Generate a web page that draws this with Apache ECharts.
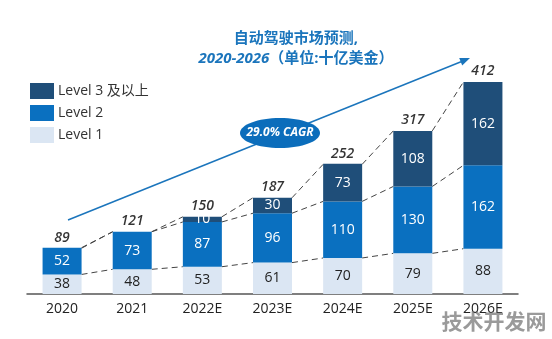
<!DOCTYPE html>
<html>
<head>
<meta charset="utf-8">
<script src="https://cdn.jsdelivr.net/npm/echarts@6/dist/echarts.min.js"></script>
<style>html,body{margin:0;padding:0;background:#fff;}#c{width:552px;height:339px;}</style>
</head>
<body>
<div id="c"></div>
<script>
var categories = ['2020', '2021', '2022E', '2023E', '2024E', '2025E', '2026E'];
var level1 = [38, 48, 53, 61, 70, 79, 88];
var level2 = [52, 73, 87, 96, 110, 130, 162];
var level3 = [null, null, 10, 30, 73, 108, 162];
var totals = [89, 121, 150, 187, 252, 317, 412];
var seriesNames = ['Level 1', 'Level 2', 'Level 3 及以上'];

var FONT = '"Open Sans", "Noto Sans CJK SC", sans-serif';
var BAR_W = 39;
var C1 = '#dbe6f3', C2 = '#0a70c0', C3 = '#1f4e79';

var cum2 = level1.map(function (v, i) { return v + level2[i]; });
var connectors = [];
for (var i = 0; i < categories.length - 1; i++) {
  connectors.push([i, level1[i], level1[i + 1], cum2[i], cum2[i + 1], totals[i], totals[i + 1]]);
}

var chart = echarts.init(document.getElementById('c'), null, {renderer: 'canvas'});
var inLabel = function (color) {
  return {show: true, position: 'inside', color: color, fontSize: 14, fontFamily: FONT,
    formatter: function (p) { return p.value == null ? '' : p.value; }};
};
chart.setOption({
  animation: false,
  backgroundColor: '#fff',
  title: {
    text: '{a|自动驾驶市场预测,}\n{b|2020-2026}{c|（单位:十亿美金）}',
    left: 291, top: 24, textAlign: 'center',
    textStyle: {
      rich: {
        a: {fontSize: 15, fontWeight: 'bold', color: '#1b75bc', fontFamily: FONT, lineHeight: 20},
        b: {fontSize: 15, fontWeight: 'bold', fontStyle: 'italic', color: '#1b75bc', fontFamily: FONT, lineHeight: 20},
        c: {fontSize: 15, fontWeight: 'bold', color: '#1b75bc', fontFamily: FONT, lineHeight: 20}
      }
    }
  },
  legend: {
    data: [seriesNames[2], seriesNames[1], seriesNames[0]],
    orient: 'vertical', left: 25, top: 78,
    itemWidth: 24, itemHeight: 16, itemGap: 6, icon: 'rect',
    textStyle: {fontSize: 14, color: '#333', fontFamily: FONT, padding: [0, 0, 0, -1]}
  },
  grid: {left: 27, right: 34, top: 82, bottom: 45},
  xAxis: {
    type: 'category', data: categories,
    axisLine: {lineStyle: {color: '#555', width: 1.5}},
    axisTick: {show: false},
    axisLabel: {fontSize: 14, color: '#222', fontFamily: FONT, margin: 8}
  },
  yAxis: {type: 'value', min: 0, max: 412, show: false, splitLine: {show: false}},
  graphic: [
    {type: 'line', z: 1, shape: {x1: 68, y1: 220, x2: 461, y2: 61.7}, style: {stroke: '#1b75bc', lineWidth: 1.5}},
    {type: 'polygon', z: 1, shape: {points: [[470, 58], [462.2, 65.4], [459.2, 58]]}, style: {fill: '#1b75bc'}},
    {type: 'ellipse', z: 2, shape: {cx: 280, cy: 133, rx: 40, ry: 15}, style: {fill: '#0b6dbb'}},
    {type: 'text', z: 3, x: 280, y: 133, style: {text: '29.0% CAGR', fill: '#fff', fontSize: 12, fontWeight: 'bold', fontStyle: 'italic', fontFamily: FONT, align: 'center', verticalAlign: 'middle'}},
    {type: 'text', z: 10, x: 494, y: 321, style: {text: '技术开发网', fill: 'rgba(120,120,120,0.75)', fontSize: 21, fontWeight: 'bold', fontFamily: '"Noto Sans CJK SC", sans-serif', align: 'center', verticalAlign: 'middle'}}
  ],
  series: [
    {name: seriesNames[0], type: 'bar', stack: 's', data: level1, barWidth: BAR_W, itemStyle: {color: C1}, label: inLabel('#222'), z: 3},
    {name: seriesNames[1], type: 'bar', stack: 's', data: level2, barWidth: BAR_W, itemStyle: {color: C2}, label: inLabel('#fff'), z: 3},
    {name: seriesNames[2], type: 'bar', stack: 's', data: level3, barWidth: BAR_W, itemStyle: {color: C3}, label: inLabel('#fff'), z: 3},
    {
      name: 'total', type: 'scatter', data: totals, symbolSize: 1,
      itemStyle: {color: 'rgba(0,0,0,0)'},
      label: {show: true, position: 'top', distance: 3, fontSize: 14, fontStyle: 'italic', fontWeight: 600, color: '#000', fontFamily: FONT},
      z: 4
    },
    {
      name: 'connectors', type: 'custom', data: connectors, z: 1,
      encode: {x: 0, y: [1, 2, 3, 4, 5, 6]},
      renderItem: function (params, api) {
        var idx = api.value(0);
        var half = BAR_W / 2;
        var children = [];
        for (var k = 0; k < 3; k++) {
          var a = api.coord([idx, api.value(1 + 2 * k)]);
          var b = api.coord([idx + 1, api.value(2 + 2 * k)]);
          children.push({type: 'line', shape: {x1: a[0] + half, y1: a[1], x2: b[0] - half, y2: b[1]},
            style: {stroke: '#444', lineWidth: 1, lineDash: [6, 4], fill: null}});
        }
        return {type: 'group', children: children};
      }
    }
  ]
});
</script>
</body>
</html>
